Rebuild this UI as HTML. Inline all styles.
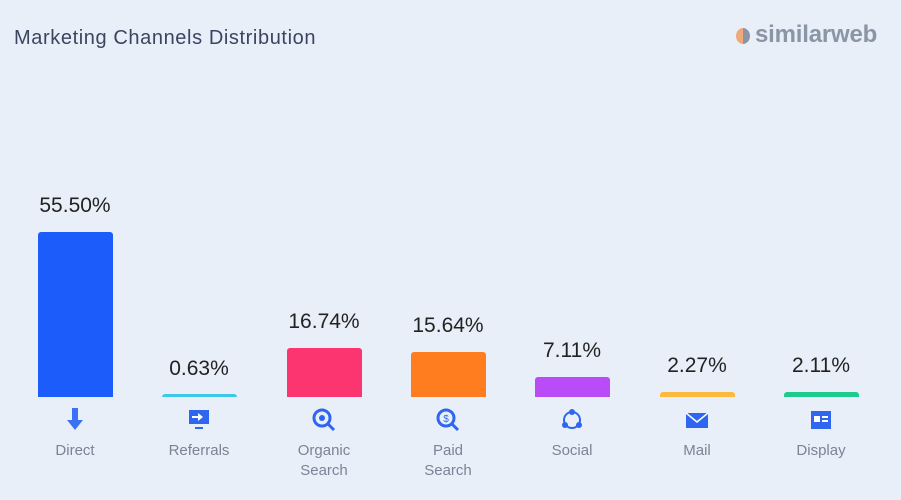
<!DOCTYPE html>
<html><head><style>
body{margin:0;width:901px;height:500px;background:#e9eff9;font-family:"Liberation Sans",sans-serif;position:relative;overflow:hidden}
.t{position:absolute;left:14px;top:27px;font-size:20px;color:#3a4660;letter-spacing:0.6px}
.logo{position:absolute;left:736px;top:21px;font-size:24px;font-weight:bold;color:#8a95a5;letter-spacing:-0.2px}
.bar{position:absolute;width:75px;border-radius:3px 3px 0 0;bottom:103px}
.v{position:absolute;width:120px;text-align:center;font-size:21px;color:#222}
.l{position:absolute;width:120px;text-align:center;font-size:15px;color:#7a8494;line-height:20px;top:441px}
.ic{position:absolute;top:408px;width:24px;height:24px}
</style></head><body>
<div class="t">Marketing Channels Distribution</div>
<div class="logo"><span style="display:inline-block;width:14px;height:16px;border-radius:50%;background:linear-gradient(90deg,#f0a97a 50%,#8a95a5 50%);vertical-align:-2px;margin-right:5px"></span>similarweb</div>

<div class="bar" style="left:38px;height:165px;background:#1b5cfb"></div>
<div class="bar" style="left:162px;height:3px;background:#3dc8ea"></div>
<div class="bar" style="left:287px;height:49px;background:#fc3570"></div>
<div class="bar" style="left:411px;height:45px;background:#ff7c1f"></div>
<div class="bar" style="left:535px;height:20px;background:#b94cf7"></div>
<div class="bar" style="left:660px;height:5px;background:#fdb93c"></div>
<div class="bar" style="left:784px;height:5px;background:#1ecb8f"></div>

<div class="v" style="left:15px;top:194px">55.50%</div>
<div class="v" style="left:139px;top:357px">0.63%</div>
<div class="v" style="left:264px;top:310px">16.74%</div>
<div class="v" style="left:388px;top:314px">15.64%</div>
<div class="v" style="left:512px;top:339px">7.11%</div>
<div class="v" style="left:637px;top:354px">2.27%</div>
<div class="v" style="left:761px;top:354px">2.11%</div>

<svg class="ic" style="left:63px" viewBox="0 0 24 24"><path d="M9 0h6v12h5l-8 10-8-10h5z" fill="#3a72f5"/></svg>
<svg class="ic" style="left:187px" viewBox="0 0 24 24"><rect x="2" y="2" width="20" height="14" fill="#2f66f0"/><rect x="8" y="19" width="8" height="2" fill="#2f66f0"/><path d="M5 8h6v-3l5 4-5 4v-3H5z" fill="#fff"/></svg>
<svg class="ic" style="left:312px" viewBox="0 0 24 24"><circle cx="10" cy="10" r="8" fill="none" stroke="#2f66f0" stroke-width="3"/><line x1="16" y1="16" x2="22" y2="22" stroke="#2f66f0" stroke-width="3"/><circle cx="10" cy="10" r="3" fill="#2f66f0"/></svg>
<svg class="ic" style="left:436px" viewBox="0 0 24 24"><circle cx="10" cy="10" r="8" fill="none" stroke="#2f66f0" stroke-width="3"/><line x1="16" y1="16" x2="22" y2="22" stroke="#2f66f0" stroke-width="3"/><text x="10" y="14" font-size="10" text-anchor="middle" fill="#2f66f0">$</text></svg>
<svg class="ic" style="left:560px" viewBox="0 0 24 24"><circle cx="12" cy="12" r="8" fill="none" stroke="#2f66f0" stroke-width="2"/><circle cx="12" cy="4" r="3" fill="#2f66f0"/><circle cx="5" cy="17" r="3" fill="#2f66f0"/><circle cx="19" cy="17" r="3" fill="#2f66f0"/></svg>
<svg class="ic" style="left:685px" viewBox="0 0 24 24"><rect x="1" y="5" width="22" height="15" fill="#2f66f0"/><path d="M1 5l11 9 11-9" fill="none" stroke="#fff" stroke-width="1.5"/></svg>
<svg class="ic" style="left:809px" viewBox="0 0 24 24"><rect x="2" y="3" width="20" height="18" fill="#2f66f0"/><rect x="5" y="8" width="6" height="6" fill="#fff"/><rect x="13" y="8" width="6" height="2" fill="#fff"/><rect x="13" y="12" width="6" height="2" fill="#fff"/></svg>

<div class="l" style="left:15px">Direct</div>
<div class="l" style="left:139px">Referrals</div>
<div class="l" style="left:264px">Organic<br>Search</div>
<div class="l" style="left:388px">Paid<br>Search</div>
<div class="l" style="left:512px">Social</div>
<div class="l" style="left:637px">Mail</div>
<div class="l" style="left:761px">Display</div>
</body></html>
